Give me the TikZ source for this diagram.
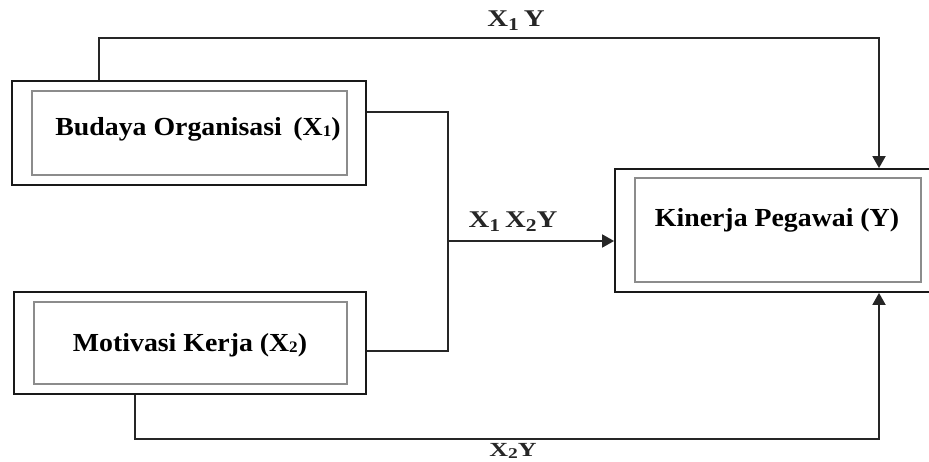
\documentclass[tikz,border=0pt]{standalone}
\usepackage{fontspec}
\setmainfont{Liberation Serif}
\usetikzlibrary{arrows.meta}
\newcommand\sbb[1]{\raisebox{-1pt}{\fontsize{16}{16}\selectfont #1}}
\newcommand\sbl[1]{\raisebox{-4pt}{\fontsize{18}{18}\selectfont #1}}
\newcommand\sbs[1]{\raisebox{-2pt}{\fontsize{15}{15}\selectfont #1}}
\newcommand\boxtxt[1]{\scalebox{1.07}[1]{\fontsize{26}{30}\selectfont\bfseries #1}}
\newcommand\lbltxt[1]{\scalebox{1.2}[1]{\fontsize{24}{28}\selectfont\bfseries #1}}
\newcommand\lbls[1]{\scalebox{1.3}[1]{\fontsize{20}{24}\selectfont\bfseries #1}}
\begin{document}
\begin{tikzpicture}[x=1pt,y=-1pt,
  outerbox/.style={draw=black!90,line width=1.8pt,minimum width=#1,inner sep=0pt},
  innerbox/.style={draw=black!45,line width=1.4pt,inner sep=0pt},
  conn/.style={draw=black!85,line width=1.8pt},
  tip/.style={-{Triangle[width=13pt,length=12pt]}},
  lbl/.style={text=black!85,inner sep=0pt}]
\useasboundingbox (0,0) rectangle (929,462);
% boxes
\node[outerbox=354pt,minimum height=104pt] (b1o) at (189,133) {};
\node[innerbox,minimum width=315pt,minimum height=84pt] (b1i) at (189.5,133) {};
\node (b1t) at (198,129) {\boxtxt{Budaya Organisasi \,(X\sbb{1})}};
\node[outerbox=352pt,minimum height=102pt] (b2o) at (190,343) {};
\node[innerbox,minimum width=313pt,minimum height=82pt] (b2i) at (190.5,343) {};
\node (b2t) at (190,345) {\boxtxt{Motivasi Kerja (X\sbb{2})}};
\node[outerbox=315pt,minimum height=123pt] (yo) at (772.5,230.5) {};
\node[innerbox,minimum width=286pt,minimum height=104pt] (yi) at (778,230) {};
\node (yt) at (777,220) {\boxtxt{Kinerja Pegawai (Y)}};
% junction
\coordinate (jt) at (448,112);
\coordinate (jb) at (448,351);
\coordinate (jm) at (448,241);
% connectors
\draw[conn,tip] ([xshift=88pt]b1o.north west) -- ++(0,-42) -| ([xshift=106.5pt]yo.north);
\draw[conn,tip] ([xshift=122pt]b2o.south west) -- ++(0,44) -| ([xshift=106.5pt]yo.south);
\draw[conn] ([yshift=21pt]b1o.east) -- (jt) -- (jb) -- ([yshift=-8pt]b2o.east);
\draw[conn,tip] (jm) -- (jm -| yo.west);
% labels
\node[lbl] (l1) at (516,21) {\lbltxt{X\sbl{1}\,Y}};
\node[lbl] (l2) at (513,222) {\lbltxt{X\sbl{1}\,X\sbl{2}Y}};
\node[lbl,anchor=north] (l3) at (513,443.5) {\lbls{X\sbs{2}Y}};
\end{tikzpicture}
\end{document}
